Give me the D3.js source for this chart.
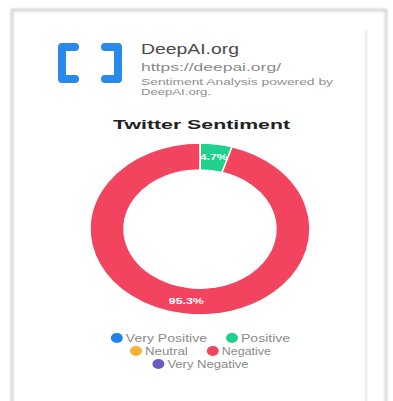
<!DOCTYPE html>
<html>
<head>
<meta charset="utf-8">
<script src="https://cdn.jsdelivr.net/npm/d3@7"></script>
<style>
  html, body { margin: 0; padding: 0; background: #fff; }
  svg { display: block; font-family: "Liberation Sans", Arial, sans-serif; }
</style>
</head>
<body>
<svg id="chart" width="393" height="401"></svg>
<script>
// sentiment categories and their shares (percent)
const categories = ["Very Positive", "Positive", "Neutral", "Negative", "Very Negative"];
const values = [0, 4.7, 0, 95.3, 0];
const colors = ["#2180e6", "#1fd18c", "#f6b13c", "#f2445f", "#6c5bc4"];
const legendRows = [["Very Positive", "Positive"], ["Neutral", "Negative"], ["Very Negative"]];

const svg = d3.select("#chart");

/* card frame */
svg.append("rect")
    .attr("x", 12).attr("y", 10)
    .attr("width", 374).attr("height", 400)
    .attr("fill", "#fff")
    .attr("stroke", "#d6d6d6")
    .attr("stroke-width", 3)
    .style("filter", "blur(1px)");
svg.append("line")
    .attr("x1", 366).attr("x2", 366)
    .attr("y1", 30).attr("y2", 401)
    .attr("stroke", "#eeeeee").attr("stroke-width", 3);

/* logo brackets */
const logo = svg.append("g").attr("fill", "none")
    .attr("stroke", "#2a8aea").attr("stroke-width", 8)
    .attr("stroke-linecap", "round").attr("stroke-linejoin", "round");
logo.append("path").attr("d", "M75,47 L62,47 L62,79 L75,79");
logo.append("path").attr("d", "M105,47 L118,47 L118,79 L105,79");

// the screenshot is stretched sideways, so texts get a fixed length
function label(x, y, size, fill, txt, len, weight) {
  return svg.append("text").attr("x", x).attr("y", y)
      .attr("font-size", size).attr("fill", fill)
      .attr("font-weight", weight || "normal")
      .attr("textLength", len).attr("lengthAdjust", "spacingAndGlyphs")
      .text(txt);
}

/* header texts */
label(141, 54, 15, "#4a4a4a", "DeepAI.org", 98);
label(141, 71, 11, "#8a8a8a", "https://deepai.org/", 140);
label(141, 85, 9, "#8f8f8f", "Sentiment Analysis powered by", 192);
label(141, 95, 9, "#8f8f8f", "DeepAI.org.", 70);

label(113, 129, 13.5, "#222", "Twitter Sentiment", 177, "bold");

/* donut (squashed vertically like the reference) */
const cx = 200, cy = 229, sy = 0.78;
const outerR = 110, innerR = 76;
const data = categories.map((c, i) => ({ name: c, value: values[i], color: colors[i] }));
const pie = d3.pie().sort(null).value(d => d.value);
const arc = d3.arc().innerRadius(innerR).outerRadius(outerR);
const arcs = pie(data).filter(d => d.data.value > 0);

const donut = svg.append("g").attr("transform", `translate(${cx},${cy}) scale(1,${sy})`);
donut.selectAll("path").data(arcs).enter()
    .append("path")
      .attr("d", arc)
      .attr("fill", d => d.data.color)
      .attr("stroke", "#fff").attr("stroke-width", 1.5);

svg.selectAll(".pct").data(arcs).enter()
    .append("text")
      .attr("class", "pct")
      .attr("x", d => cx + arc.centroid(d)[0])
      .attr("y", d => cy + arc.centroid(d)[1] * sy + 3)
      .attr("text-anchor", "middle")
      .attr("font-size", 9.5).attr("font-weight", "bold").attr("fill", "#fff")
      .attr("textLength", d => (d.data.value.toFixed(1).length + 1) * 7)
      .attr("lengthAdjust", "spacingAndGlyphs")
      .text(d => d.data.value.toFixed(1) + "%");

/* legend */
const color = d3.scaleOrdinal().domain(categories).range(colors);
const legend = svg.append("g").attr("font-size", 11).attr("fill", "#8a8a8a");
const rowY = [342, 355, 368];
const charW = 6.4, dotOff = 12, gap = 20;
legendRows.forEach((row, r) => {
  const widths = row.map(n => n.length * charW + dotOff);
  const total = d3.sum(widths) + gap * (row.length - 1);
  let x = 201 - total / 2;
  row.forEach((name, i) => {
    legend.append("ellipse").attr("cx", x + 5).attr("cy", rowY[r] - 4)
        .attr("rx", 6).attr("ry", 5).attr("fill", color(name));
    legend.append("text").attr("x", x + dotOff + 2).attr("y", rowY[r])
        .attr("textLength", name.length * charW - 2)
        .attr("lengthAdjust", "spacingAndGlyphs")
        .text(name);
    x += widths[i] + gap;
  });
});
</script>
</body>
</html>
